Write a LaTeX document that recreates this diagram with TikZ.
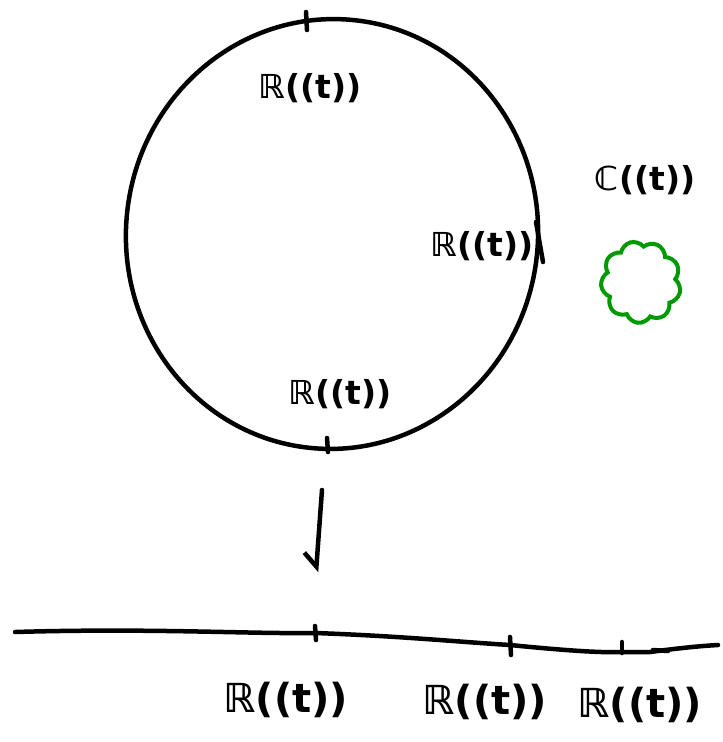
\documentclass[tikz,border=0pt]{standalone}
\usepackage{fontspec}
\setmainfont{DejaVu Sans}
\usetikzlibrary{shapes.geometric,shapes.symbols,arrows.meta}
\tikzset{
  ink/.style={line width=4.5pt, line cap=round, line join=round, black},
  lbl/.style={font=\fontsize{33}{33}\selectfont\bfseries, inner sep=0pt},
  biglbl/.style={font=\fontsize{40}{40}\selectfont\bfseries, inner sep=0pt},
  tick/.style={ink},
}
\begin{document}
\begin{tikzpicture}[x=1pt,y=-1pt]
\useasboundingbox (0,0) rectangle (723,742);
% big circle
\node[ellipse, draw, ink, minimum width=412pt, minimum height=430pt, inner sep=0pt, rotate=-6] (circ) at (332,234) {};
% ticks on circle
\draw[tick] (306,12) -- (307,30);
\draw[tick] (536,222) -- (543,262);
\draw[tick] (327,438) -- (328,452);
% labels on circle
\node[lbl] (ltop) at (310,88) {ℝ((t))};
\node[lbl] (lright) at (482,246) {ℝ((t))};
\node[lbl] (lbot) at (340,394) {ℝ((t))};
% C((t)) and cloud
\node[lbl] (lc) at (645,180) {ℂ((t))};
\node[cloud, cloud puffs=9, cloud puff arc=130, draw=green!60!black, line width=4pt, minimum width=80pt, minimum height=82pt, aspect=1, rotate=15] (cl) at (641,282) {};
% arrow
\coordinate (a1) at (322,490);
\coordinate (a2) at (316,572);
\draw[ink, -{Straight Barb[right, length=13pt, width=26pt, line width=4.5pt]}] (a1) -- (a2);
% line
\coordinate (l0) at (15,632);
\coordinate (t1) at (315,633);
\coordinate (t2) at (510,645);
\coordinate (t3) at (622,652);
\coordinate (l4) at (718,645);
\draw[ink] (l0) .. controls (150,628) and (250,634) .. (t1) .. controls (400,636) and (460,642) .. (t2) .. controls (560,650) and (600,653) .. (t3) -- (650,652) .. controls (680,648) and (700,646) .. (l4);
\draw[ink] (653,650) -- (668,651);
\draw[tick] (315,626) -- (316,640);
\draw[tick] (510,637) -- (511,655);
\draw[tick] (622,642) -- (622,653);
% labels under line
\node[biglbl] (b1) at (286,700) {ℝ((t))};
\node[biglbl] (b2) at (485,702) {ℝ((t))};
\node[biglbl] (b3) at (640,705) {ℝ((t))};
\end{tikzpicture}
\end{document}
